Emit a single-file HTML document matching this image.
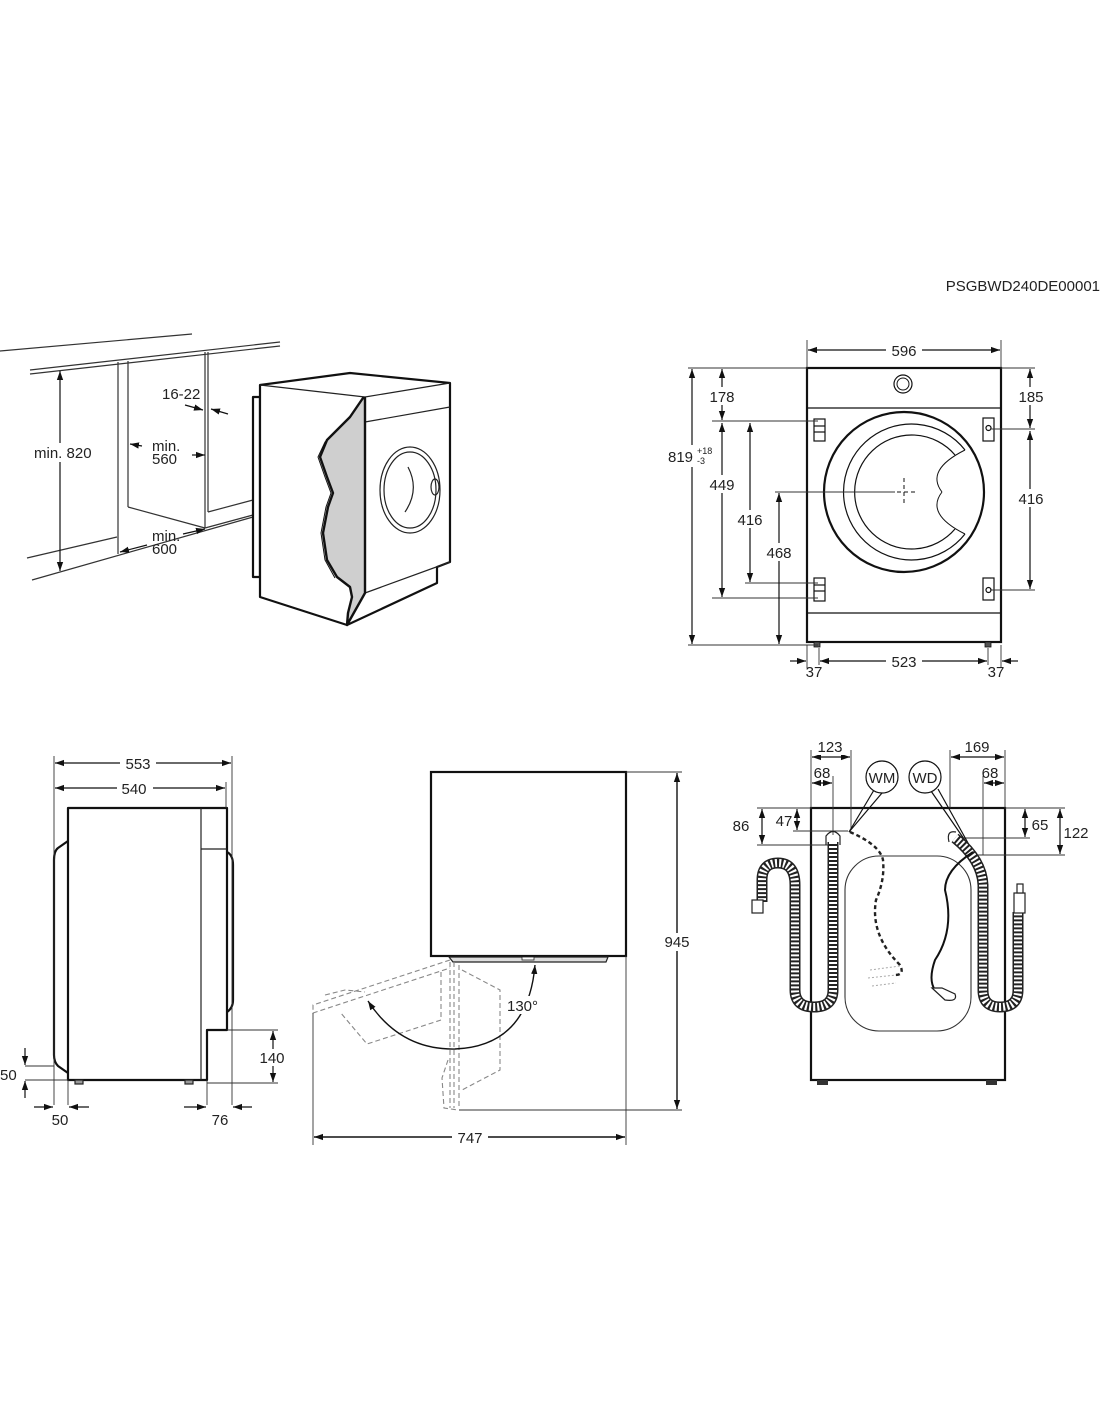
<!DOCTYPE html>
<html><head><meta charset="utf-8"><style>
html,body{margin:0;padding:0;background:#fff}
svg{display:block}
text{font-family:"Liberation Sans",Arial,sans-serif;fill:#222}
</style></head><body>
<svg width="1100" height="1422" viewBox="0 0 1100 1422" xmlns="http://www.w3.org/2000/svg">
<defs>
<marker id="a" viewBox="0 0 10 10" refX="10" refY="5" markerWidth="9" markerHeight="9" orient="auto-start-reverse" markerUnits="userSpaceOnUse"><path d="M0,1.5 L10,5 L0,8.5 Z" fill="#111"/></marker>
</defs>
<text x="1100" y="291" font-size="15" text-anchor="end">PSGBWD240DE00001</text>

<!-- ===== TOP LEFT: installation ===== -->
<g stroke="#333" fill="none" stroke-width="1.2">
<line x1="0" y1="351" x2="192" y2="334"/>
<line x1="30" y1="370" x2="280" y2="342"/>
<line x1="30" y1="374" x2="280" y2="346"/>
<line x1="118" y1="362" x2="118" y2="554"/>
<line x1="27" y1="558" x2="117" y2="537"/>
<line x1="32" y1="580" x2="253" y2="517"/>
<line x1="128" y1="361" x2="128" y2="507"/>
<line x1="128" y1="507" x2="205" y2="528"/>
<line x1="205" y1="352" x2="205" y2="528"/>
<line x1="208" y1="352" x2="208" y2="512"/>
<line x1="205" y1="528" x2="253" y2="515"/>
<line x1="208" y1="512" x2="253" y2="500"/>
</g>
<g stroke="#111" stroke-width="1.2" fill="none">
<line x1="60" y1="371" x2="60" y2="571" marker-start="url(#a)" marker-end="url(#a)"/>
<line x1="185" y1="405" x2="203" y2="410" marker-end="url(#a)"/>
<line x1="228" y1="414" x2="211" y2="409" marker-end="url(#a)"/>
<line x1="142" y1="446" x2="130" y2="444" marker-end="url(#a)"/>
<line x1="192" y1="455" x2="205" y2="455" marker-end="url(#a)"/>
<line x1="147" y1="545" x2="120" y2="552" marker-end="url(#a)"/>
<line x1="183" y1="534" x2="205" y2="529" marker-end="url(#a)"/>
</g>
<rect x="32" y="443" width="64" height="19" fill="#fff"/>
<text x="34" y="458" font-size="15">min. 820</text>
<text x="162" y="399" font-size="15">16-22</text>
<text x="152" y="451" font-size="15">min.</text>
<text x="152" y="464" font-size="15">560</text>
<text x="152" y="541" font-size="15">min.</text>
<text x="152" y="554" font-size="15">600</text>
<!-- machine -->
<g stroke="#111" fill="#fff" stroke-width="2.2" stroke-linejoin="round">
<path d="M253,397 L260,397 L260,577 L253,577 Z"/>
<path d="M260,385 L350,373 L450,383 L450,562 L437,567 L437,583 L347,625 L260,597 Z"/>
</g>
<g stroke="#222" fill="none" stroke-width="1.2">
<line x1="260" y1="385" x2="365" y2="397"/>
<line x1="365" y1="397" x2="450" y2="383"/>
<line x1="365" y1="397" x2="365" y2="593"/>
<line x1="365" y1="422" x2="450" y2="407"/>
<line x1="365" y1="593" x2="450" y2="562"/>
<line x1="365" y1="593" x2="347" y2="625"/>
<ellipse cx="410" cy="490" rx="30" ry="43"/>
<ellipse cx="410" cy="490" rx="26" ry="38"/>
<path d="M408,467 Q420,490 405,512"/>
<ellipse cx="435" cy="487" rx="4" ry="8"/>
</g>
<path d="M363,398 L350,417 L327,440 L320,457 L327,477 L333,493 L328,507 L323,533 L327,560 L337,577 L350,587 L352,597 L348,613 L347,625 L365,593 L365,398 Z" fill="#cfcfcf" stroke="#111" stroke-width="2.4" stroke-linejoin="round"/>
<path d="M361,401 L348,419 L325,442 L318,457 L325,477 L331,493 L326,507 L321,533 L325,560 L335,578" fill="none" stroke="#111" stroke-width="1"/>

<!-- ===== TOP RIGHT: front view ===== -->
<g stroke="#111" fill="none">
<rect x="807" y="368" width="194" height="274" stroke-width="2.2"/>
<line x1="807" y1="408" x2="1001" y2="408" stroke-width="1.2"/>
<line x1="807" y1="613" x2="1001" y2="613" stroke-width="1.2"/>
<circle cx="903" cy="384" r="9" stroke-width="1.2"/>
<circle cx="903" cy="384" r="6" stroke-width="1"/>
<circle cx="904" cy="492" r="80" stroke-width="2.2"/>
<path d="M965,450 A68,68 0 1 0 965,534" stroke-width="1.2"/>
<path d="M955,455 A57,57 0 1 0 955,529" stroke-width="1.2"/>
<path d="M965,450 Q925,470 942,492" stroke-width="1"/>
<path d="M965,534 Q925,514 942,492" stroke-width="1"/>
<g stroke-width="1"><line x1="904" y1="478" x2="904" y2="506" stroke-dasharray="4,3"/><line x1="890" y1="492" x2="918" y2="492" stroke-dasharray="4,3"/></g>
<g stroke-width="1.2">
<rect x="814" y="419" width="11" height="22"/><line x1="814" y1="426" x2="825" y2="426"/><line x1="814" y1="432" x2="825" y2="432"/>
<rect x="814" y="578" width="11" height="23"/><line x1="814" y1="585" x2="825" y2="585"/><line x1="814" y1="591" x2="825" y2="591"/>
<rect x="983" y="418" width="11" height="23"/><circle cx="988.5" cy="428" r="2.5"/>
<rect x="983" y="578" width="11" height="22"/><circle cx="988.5" cy="590" r="2.5"/>
</g>
<rect x="814" y="642" width="6" height="5" fill="#555" stroke-width="0.8"/>
<rect x="985" y="642" width="6" height="5" fill="#555" stroke-width="0.8"/>
</g>
<g stroke="#333" stroke-width="0.9" fill="none">
<line x1="807" y1="340" x2="807" y2="368"/><line x1="1001" y1="340" x2="1001" y2="368"/>
<line x1="688" y1="368" x2="807" y2="368"/><line x1="1001" y1="368" x2="1035" y2="368"/>
<line x1="712" y1="421" x2="818" y2="421"/>
<line x1="712" y1="598" x2="818" y2="598"/>
<line x1="745" y1="583" x2="818" y2="583"/>
<line x1="775" y1="492" x2="895" y2="492"/>
<line x1="688" y1="645" x2="818" y2="645"/>
<line x1="990" y1="429" x2="1035" y2="429"/>
<line x1="990" y1="590" x2="1035" y2="590"/>
<line x1="807" y1="645" x2="807" y2="668"/><line x1="1001" y1="645" x2="1001" y2="668"/>
<line x1="819" y1="648" x2="819" y2="665"/><line x1="988" y1="648" x2="988" y2="665"/>
</g>
<g stroke="#111" stroke-width="1.2" fill="none">
<line x1="808" y1="350" x2="1000" y2="350" marker-start="url(#a)" marker-end="url(#a)"/>
<line x1="692" y1="369" x2="692" y2="644" marker-start="url(#a)" marker-end="url(#a)"/>
<line x1="722" y1="369" x2="722" y2="420" marker-start="url(#a)" marker-end="url(#a)"/>
<line x1="722" y1="423" x2="722" y2="597" marker-start="url(#a)" marker-end="url(#a)"/>
<line x1="750" y1="423" x2="750" y2="582" marker-start="url(#a)" marker-end="url(#a)"/>
<line x1="779" y1="493" x2="779" y2="644" marker-start="url(#a)" marker-end="url(#a)"/>
<line x1="1030" y1="369" x2="1030" y2="428" marker-start="url(#a)" marker-end="url(#a)"/>
<line x1="1030" y1="431" x2="1030" y2="589" marker-start="url(#a)" marker-end="url(#a)"/>
<line x1="820" y1="661" x2="987" y2="661" marker-start="url(#a)" marker-end="url(#a)"/>
<line x1="790" y1="661" x2="806" y2="661" marker-end="url(#a)"/>
<line x1="1018" y1="661" x2="1002" y2="661" marker-end="url(#a)"/>
</g>
<g font-size="15">
<rect x="886" y="341" width="36" height="18" fill="#fff"/>
<text x="904" y="356" text-anchor="middle">596</text>
<rect x="710" y="387" width="26" height="18" fill="#fff"/><text x="722" y="402" text-anchor="middle">178</text>
<rect x="706" y="475" width="32" height="18" fill="#fff"/><text x="722" y="490" text-anchor="middle">449</text>
<rect x="734" y="510" width="32" height="18" fill="#fff"/><text x="750" y="525" text-anchor="middle">416</text>
<rect x="763" y="543" width="32" height="18" fill="#fff"/><text x="779" y="558" text-anchor="middle">468</text>
<rect x="1014" y="387" width="32" height="18" fill="#fff"/><text x="1031" y="402" text-anchor="middle">185</text>
<rect x="1014" y="489" width="32" height="18" fill="#fff"/><text x="1031" y="504" text-anchor="middle">416</text>
<rect x="886" y="652" width="36" height="18" fill="#fff"/><text x="904" y="667" text-anchor="middle">523</text>
<text x="814" y="677" text-anchor="middle">37</text>
<text x="996" y="677" text-anchor="middle">37</text>
<rect x="668" y="445" width="44" height="22" fill="#fff"/>
<text x="668" y="462">819</text>
<text x="697" y="454" font-size="9">+18</text>
<text x="697" y="464" font-size="9">-3</text>
</g>

<!-- ===== BOTTOM LEFT: side view ===== -->
<g stroke="#111" fill="none" stroke-width="2.2" stroke-linejoin="round">
<path d="M68,808 L227,808 L227,1030 L207,1030 L207,1080 L68,1080 Z"/>
<path d="M68,841 L58,848 Q54,851 54,860 L54,1055 Q54,1062 58,1066 L68,1073"/>
<path d="M227,852 Q233,855 233,865 L233,1000 Q233,1008 227,1012"/>
</g>
<g stroke="#222" fill="none" stroke-width="1.2">
<line x1="201" y1="808" x2="201" y2="1080"/>
<line x1="201" y1="849" x2="227" y2="849"/>
<rect x="75" y="1080" width="8" height="4" fill="#999"/>
<rect x="185" y="1080" width="8" height="4" fill="#999"/>
</g>
<g stroke="#333" stroke-width="0.9" fill="none">
<line x1="54" y1="756" x2="54" y2="1105"/>
<line x1="232" y1="756" x2="232" y2="1105"/>
<line x1="226" y1="782" x2="226" y2="808"/>
<line x1="68" y1="1080" x2="68" y2="1105"/>
<line x1="207" y1="1080" x2="207" y2="1105"/>
<line x1="25" y1="1066" x2="54" y2="1066"/>
<line x1="25" y1="1080" x2="68" y2="1080"/>
<line x1="227" y1="1030" x2="278" y2="1030"/>
<line x1="207" y1="1083" x2="278" y2="1083"/>
</g>
<g stroke="#111" stroke-width="1.2" fill="none">
<line x1="55" y1="763" x2="231" y2="763" marker-start="url(#a)" marker-end="url(#a)"/>
<line x1="55" y1="788" x2="225" y2="788" marker-start="url(#a)" marker-end="url(#a)"/>
<line x1="273" y1="1031" x2="273" y2="1082" marker-start="url(#a)" marker-end="url(#a)"/>
<line x1="25" y1="1048" x2="25" y2="1065" marker-end="url(#a)"/>
<line x1="25" y1="1098" x2="25" y2="1081" marker-end="url(#a)"/>
<line x1="34" y1="1107" x2="53" y2="1107" marker-end="url(#a)"/>
<line x1="89" y1="1107" x2="69" y2="1107" marker-end="url(#a)"/>
<line x1="184" y1="1107" x2="206" y2="1107" marker-end="url(#a)"/>
<line x1="252" y1="1107" x2="233" y2="1107" marker-end="url(#a)"/>
</g>
<g font-size="15">
<rect x="120" y="755" width="36" height="17" fill="#fff"/><text x="138" y="769" text-anchor="middle">553</text>
<rect x="117" y="780" width="36" height="17" fill="#fff"/><text x="134" y="794" text-anchor="middle">540</text>
<rect x="256" y="1049" width="34" height="17" fill="#fff"/><text x="272" y="1063" text-anchor="middle">140</text>
<text x="0" y="1080">50</text>
<text x="60" y="1125" text-anchor="middle">50</text>
<text x="220" y="1125" text-anchor="middle">76</text>
</g>

<!-- ===== BOTTOM MIDDLE: top view ===== -->
<rect x="431" y="772" width="195" height="184" fill="none" stroke="#111" stroke-width="2.2"/>
<path d="M449,957 L608,957 L606,962 L453,962 Z" fill="#ddd" stroke="#222" stroke-width="1.2"/>
<rect x="522" y="957" width="12" height="3" fill="#fff" stroke="#222" stroke-width="0.8"/>
<g stroke="#888" fill="none" stroke-width="1.1" stroke-dasharray="5,3">
<path d="M450,960 L313,1005 L313,1013 L450,968"/>
<path d="M441,972 L441,1020 L367,1044 L340,1012"/>
<line x1="450" y1="962" x2="450" y2="1108"/>
<line x1="454" y1="962" x2="454" y2="1108"/>
<line x1="459" y1="965" x2="459" y2="1108"/>
<path d="M462,970 L500,990 L500,1070 L462,1090"/>
<path d="M325,995 L345,990 L365,992"/>
<path d="M448,1060 L442,1078 L444,1108 L458,1110"/>
</g>
<g stroke="#333" stroke-width="0.9" fill="none">
<line x1="626" y1="772" x2="682" y2="772"/>
<line x1="459" y1="1110" x2="682" y2="1110"/>
<line x1="313" y1="1013" x2="313" y2="1145"/>
<line x1="626" y1="956" x2="626" y2="1145"/>
</g>
<g stroke="#111" stroke-width="1.4" fill="none">
<path d="M368,1001 Q400,1050 455,1049 Q528,1046 535,965" marker-start="url(#a)" marker-end="url(#a)"/>
<line x1="677" y1="773" x2="677" y2="1109" marker-start="url(#a)" marker-end="url(#a)"/>
<line x1="314" y1="1137" x2="625" y2="1137" marker-start="url(#a)" marker-end="url(#a)"/>
</g>
<g font-size="15">
<rect x="508" y="996" width="40" height="18" fill="#fff"/><text x="507" y="1011">130°</text>
<rect x="660" y="933" width="34" height="18" fill="#fff"/><text x="677" y="947" text-anchor="middle">945</text>
<rect x="452" y="1128" width="36" height="18" fill="#fff"/><text x="470" y="1143" text-anchor="middle">747</text>
</g>

<!-- ===== BOTTOM RIGHT: back view ===== -->
<rect x="811" y="808" width="194" height="272" fill="none" stroke="#111" stroke-width="2.2"/>
<rect x="845" y="856" width="126" height="175" rx="34" fill="none" stroke="#333" stroke-width="1.1"/>
<rect x="817" y="1080" width="11" height="5" fill="#333"/>
<rect x="986" y="1080" width="11" height="5" fill="#333"/>
<g stroke="#333" stroke-width="0.9" fill="none">
<line x1="811" y1="750" x2="811" y2="808"/>
<line x1="851" y1="750" x2="851" y2="830"/>
<line x1="833" y1="776" x2="833" y2="835"/>
<line x1="950" y1="750" x2="950" y2="808"/>
<line x1="1005" y1="750" x2="1005" y2="808"/>
<line x1="983" y1="776" x2="983" y2="855"/>
<line x1="757" y1="808" x2="811" y2="808"/>
<line x1="1005" y1="808" x2="1065" y2="808"/>
<line x1="793" y1="831" x2="848" y2="831"/>
<line x1="757" y1="845" x2="828" y2="845"/>
<line x1="960" y1="838" x2="1030" y2="838"/>
<line x1="975" y1="855" x2="1065" y2="855"/>
</g>
<g stroke="#111" stroke-width="1.2" fill="none">
<line x1="812" y1="757" x2="850" y2="757" marker-start="url(#a)" marker-end="url(#a)"/>
<line x1="812" y1="783" x2="832" y2="783" marker-start="url(#a)" marker-end="url(#a)"/>
<line x1="951" y1="757" x2="1004" y2="757" marker-start="url(#a)" marker-end="url(#a)"/>
<line x1="984" y1="783" x2="1004" y2="783" marker-start="url(#a)" marker-end="url(#a)"/>
<line x1="762" y1="809" x2="762" y2="844" marker-start="url(#a)" marker-end="url(#a)"/>
<line x1="797" y1="809" x2="797" y2="830" marker-start="url(#a)" marker-end="url(#a)"/>
<line x1="1025" y1="809" x2="1025" y2="837" marker-start="url(#a)" marker-end="url(#a)"/>
<line x1="1060" y1="809" x2="1060" y2="854" marker-start="url(#a)" marker-end="url(#a)"/>
</g>
<g font-size="15">
<rect x="814" y="739" width="34" height="16" fill="#fff"/><text x="830" y="752" text-anchor="middle">123</text>
<text x="822" y="778" text-anchor="middle">68</text>
<rect x="960" y="739" width="34" height="16" fill="#fff"/><text x="977" y="752" text-anchor="middle">169</text>
<text x="990" y="778" text-anchor="middle">68</text>
<text x="741" y="831" text-anchor="middle">86</text>
<text x="784" y="826" text-anchor="middle">47</text>
<text x="1040" y="830" text-anchor="middle">65</text>
<text x="1076" y="838" text-anchor="middle">122</text>
</g>
<!-- WM / WD callouts -->
<g stroke="#111" stroke-width="1.2" fill="#fff">
<line x1="849" y1="832" x2="874" y2="790"/><line x1="849" y1="832" x2="882" y2="793"/>
<line x1="973" y1="852" x2="931" y2="791"/><line x1="973" y1="852" x2="938" y2="789"/>
<circle cx="882" cy="777" r="16"/>
<circle cx="925" cy="777" r="16"/>
</g>
<text x="882" y="783" font-size="15" text-anchor="middle">WM</text>
<text x="925" y="783" font-size="15" text-anchor="middle">WD</text>
<!-- hoses -->
<g fill="none" stroke-linecap="butt">
<path d="M833,842 L833,990 Q833,1007 814,1007 Q795,1007 795,990 L795,885 Q795,863 778,863 Q762,863 762,880 L762,902" stroke="#222" stroke-width="11"/>
<path d="M833,842 L833,990 Q833,1007 814,1007 Q795,1007 795,990 L795,885 Q795,863 778,863 Q762,863 762,880 L762,902" stroke="#fff" stroke-width="8" stroke-dasharray="2,2"/>
<path d="M955,838 Q982,860 983,885 L983,990 Q983,1007 1000,1007 Q1018,1007 1018,990 L1018,912" stroke="#222" stroke-width="11"/>
<path d="M955,838 Q982,860 983,885 L983,990 Q983,1007 1000,1007 Q1018,1007 1018,990 L1018,912" stroke="#fff" stroke-width="8" stroke-dasharray="2,2"/>
</g>
<path d="M826,845 L826,836 Q833,827 840,836 L840,845" fill="none" stroke="#222" stroke-width="1.2"/>
<path d="M949,842 Q946,830 956,832" fill="none" stroke="#222" stroke-width="1.2"/>
<rect x="752" y="900" width="11" height="13" fill="#fff" stroke="#222" stroke-width="1.2"/>
<rect x="1014" y="893" width="11" height="20" fill="#fff" stroke="#222" stroke-width="1.2"/>
<rect x="1017" y="884" width="6" height="9" fill="#fff" stroke="#222" stroke-width="1.2"/>
<!-- cables -->
<path d="M850,832 Q880,845 883,860 Q885,880 876,900 Q870,935 900,965 Q905,975 895,975" fill="none" stroke="#222" stroke-width="2.4" stroke-dasharray="4,3"/>
<path d="M870,970 l30,-4 M868,978 l28,-3 M872,986 l24,-3" stroke="#aaa" stroke-width="1" stroke-dasharray="2,2"/>
<path d="M973,852 Q945,870 945,890 Q955,930 935,960 Q928,980 935,990" fill="none" stroke="#111" stroke-width="2"/>
<path d="M932,988 L945,1000 Q958,1002 955,994 L942,988 Z" fill="#fff" stroke="#222" stroke-width="1.2"/>
</svg>
</body></html>
